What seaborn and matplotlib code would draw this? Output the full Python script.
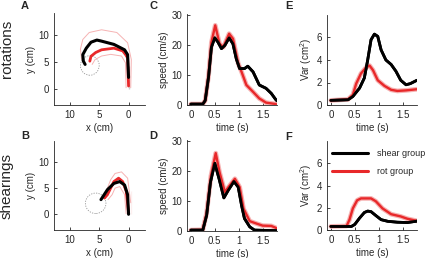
import numpy as np
import pandas as pd
import matplotlib
matplotlib.use('Agg')
import matplotlib.pyplot as plt
import seaborn as sns
from matplotlib.patches import Ellipse

sns.set_style('ticks')
plt.rcParams['font.family'] = ['Liberation Sans', 'DejaVu Sans']
plt.rcParams['mathtext.fontset'] = 'custom'
plt.rcParams['mathtext.rm'] = 'Liberation Sans'

BLACK = '#000000'
RED = '#e8282a'
PINK = '#f6b3b3'

# ---------------------------------------------------------------------------
# data
# ---------------------------------------------------------------------------
# A: rotations, hand trajectories (cm)
rotA_black_x = [0, 0, 0.16, 0.68, 2.5, 4.6, 5.4, 6.4, 7.2, 7.8, 7.7, 7.4]
rotA_black_y = [0, 4.2, 6.3, 7.2, 8.2, 8.8, 9.0, 8.6, 7.5, 6.3, 5.1, 4.5]
rotA_red_x = [0, 0.16, 0.5, 1.0, 2.5, 4.6, 5.6, 6.4, 6.6]
rotA_red_y = [0.5, 5.7, 6.3, 7.0, 7.5, 7.2, 6.7, 6.0, 5.1]
rotA_env_hi_x = [-0.37, -0.47, 0.16, 2.0, 4.6, 6.7, 7.8, 8.2, 8.0]
rotA_env_hi_y = [0.19, 5.4, 8.5, 10.4, 10.9, 10.4, 9.1, 7.3, 5.4]
rotA_env_lo_x = [0.42, 0.53, 1.2, 3.05, 4.6, 5.7, 6.2]
rotA_env_lo_y = [0.19, 4.8, 6.05, 6.36, 6.05, 5.4, 4.5]
rotA_circle = (6.6, 4.3, 1.6, 1.8)

# B: shearings, hand trajectories (cm)
shB_black_x = [0, 0.16, 0.68, 1.5, 2.5, 3.6, 4.7]
shB_black_y = [0, 3.75, 5.6, 6.25, 5.9, 4.7, 2.8]
shB_red_x = [0, 0.4, 1.0, 1.7, 2.5, 3.05, 3.6, 4.1]
shB_red_y = [0.3, 4.4, 6.25, 6.9, 6.25, 5.0, 3.75, 3.1]
shB_env_hi_x = [-0.37, -0.37, 0.16, 1.2, 2.3, 3.05, 3.7, 4.4]
shB_env_hi_y = [0, 4.4, 6.9, 8.1, 7.8, 6.6, 4.7, 3.1]
shB_env_lo_x = [0.42, 0.68, 1.5, 2.3, 2.8, 3.5]
shB_env_lo_y = [0.1, 3.75, 5.3, 5.0, 3.75, 2.8]
shB_circle = (5.6, 2.1, 1.75, 1.95)

# C: speed, rotations
spC_black_t = [0, 0.25, 0.3, 0.37, 0.43, 0.5, 0.57, 0.64, 0.71, 0.8, 0.88, 0.95,
               1.02, 1.12, 1.19, 1.3, 1.43, 1.57, 1.68, 1.77, 1.8]
spC_black_v = [0.3, 0.3, 1.5, 9.4, 19.4, 22.5, 21, 18.9, 20, 22.5, 20.5, 15.5,
               12.2, 12.2, 13, 11.1, 6.7, 5.6, 3.9, 1.9, 1.4]
spC_red_t = [0, 0.25, 0.3, 0.37, 0.43, 0.51, 0.6, 0.68, 0.8, 0.88, 0.99,
             1.06, 1.16, 1.3, 1.43, 1.57, 1.78]
spC_red_v = [0.3, 0.3, 1.5, 9.8, 21, 26.7, 20.5, 19.4, 23.9, 22.2, 13.9,
             11.1, 6.7, 4.4, 2.2, 0.8, 0.3]

# D: speed, shearings
spD_black_t = [0, 0.25, 0.33, 0.41, 0.5, 0.59, 0.69, 0.78, 0.9, 0.99, 1.06,
               1.12, 1.23, 1.33, 1.8]
spD_black_v = [0.3, 0.3, 5.3, 16.4, 22.7, 17.5, 11.1, 13.6, 16.6, 14.7, 8.6,
               4.2, 1.4, 0.3, 0.1]
spD_red_t = [0, 0.25, 0.33, 0.42, 0.52, 0.6, 0.71, 0.8, 0.92, 1.02, 1.1,
             1.23, 1.37, 1.5, 1.68, 1.77, 1.8]
spD_red_v = [0.3, 0.4, 6.0, 18.5, 26.1, 19.7, 13.1, 15, 17.5, 14.7, 7.5,
             3.3, 2.5, 1.8, 1.7, 1.1, 0.8]

# E: variance, rotations
varE_black_t = [0, 0.36, 0.46, 0.6, 0.7, 0.77, 0.84, 0.91, 0.98, 1.05, 1.15,
                1.26, 1.36, 1.46, 1.57, 1.66, 1.8]
varE_black_v = [0.41, 0.47, 0.76, 1.5, 2.4, 4.0, 5.8, 6.3, 6.1, 4.9, 4.0,
                3.6, 3.0, 2.2, 1.8, 1.9, 2.2]
varE_red_t = [0, 0.36, 0.46, 0.53, 0.63, 0.74, 0.81, 0.88, 0.98, 1.12, 1.26,
              1.39, 1.57, 1.8]
varE_red_v = [0.41, 0.5, 0.9, 1.9, 2.8, 3.35, 3.5, 3.1, 2.2, 1.7, 1.35,
              1.25, 1.3, 1.4]

# F: variance, shearings
varF_black_t = [0, 0.43, 0.5, 0.6, 0.7, 0.77, 0.84, 0.94, 1.05, 1.19, 1.39,
                1.6, 1.8]
varF_black_v = [0.32, 0.32, 0.5, 1.07, 1.57, 1.7, 1.65, 1.3, 0.93, 0.78, 0.7,
                0.67, 0.8]
varF_red_t = [0, 0.33, 0.39, 0.46, 0.55, 0.63, 0.84, 0.94, 1.08, 1.26, 1.46,
              1.6, 1.8]
varF_red_v = [0.32, 0.36, 0.93, 1.94, 2.67, 2.84, 2.84, 2.58, 1.94, 1.42,
              1.22, 1.01, 0.82]

group_labels = ['shear group', 'rot group']

# ---------------------------------------------------------------------------
W, H = 429, 258
fig = plt.figure(figsize=(W / 100, H / 100), dpi=100)


def rect(l, r, t, b):
    return [l / W, (H - b) / H, (r - l) / W, (b - t) / H]


axA = fig.add_axes(rect(54, 145, 13, 105))
axB = fig.add_axes(rect(54, 145, 141, 230))
axC = fig.add_axes(rect(187, 277, 14, 105))
axD = fig.add_axes(rect(187, 277, 140, 231))
axE = fig.add_axes(rect(327, 417, 15, 105))
axF = fig.add_axes(rect(327, 417, 141, 230))

FS = 7


def style(ax):
    sns.despine(ax=ax)
    for s in ['left', 'bottom']:
        ax.spines[s].set_linewidth(0.6)
    ax.tick_params(direction='in', length=2, width=0.6, labelsize=FS, pad=3.5)


def traj(ax, bx, by, rx, ry, hx, hy, lx, ly, circ):
    sns.lineplot(x=hx, y=hy, sort=False, ax=ax, color=PINK, lw=0.7)
    sns.lineplot(x=lx, y=ly, sort=False, ax=ax, color=PINK, lw=0.7)
    cx, cy, rxx, ryy = circ
    ax.add_patch(Ellipse((cx, cy), 2 * rxx, 2 * ryy, fill=False, ls=(0, (1.5, 1.5)),
                         lw=0.6, ec='#999999'))
    sns.lineplot(x=rx, y=ry, sort=False, ax=ax, color=RED, lw=2.0)
    sns.lineplot(x=bx, y=by, sort=False, ax=ax, color=BLACK, lw=2.2)
    ax.set_xlim(12.7, -2.8)
    ax.set_ylim(-3, 14)
    ax.set_xticks([10, 5, 0])
    ax.set_yticks([0, 5, 10])
    ax.set_xlabel('x (cm)', fontsize=FS, labelpad=2)
    ax.set_ylabel('y (cm)', fontsize=FS, labelpad=2)
    style(ax)


traj(axA, rotA_black_x, rotA_black_y, rotA_red_x, rotA_red_y,
     rotA_env_hi_x, rotA_env_hi_y, rotA_env_lo_x, rotA_env_lo_y, rotA_circle)
traj(axB, shB_black_x, shB_black_y, shB_red_x, shB_red_y,
     shB_env_hi_x, shB_env_hi_y, shB_env_lo_x, shB_env_lo_y, shB_circle)


def timecourse(ax, bt, bv, rt, rv, ylim, yticks, ylabel, legend=False):
    sns.lineplot(x=rt, y=rv, ax=ax, color=PINK, lw=3.4)
    sns.lineplot(x=bt, y=bv, ax=ax, color=BLACK, lw=2.0,
                 label=group_labels[0] if legend else None)
    sns.lineplot(x=rt, y=rv, ax=ax, color=RED, lw=1.7,
                 label=group_labels[1] if legend else None)
    sns.lineplot(x=bt, y=bv, ax=ax, color=BLACK, lw=2.0)
    ax.set_xlim(-0.08, 1.8)
    ax.set_ylim(*ylim)
    ax.set_xticks([0, 0.5, 1, 1.5])
    ax.set_xticklabels(['0', '0.5', '1', '1.5'])
    ax.set_yticks(yticks)
    ax.set_xlabel('time (s)', fontsize=FS, labelpad=2)
    ax.set_ylabel(ylabel, fontsize=FS, labelpad=2)
    style(ax)


timecourse(axC, spC_black_t, spC_black_v, spC_red_t, spC_red_v,
           (0, 30.5), [0, 10, 20, 30], 'speed (cm/s)')
timecourse(axD, spD_black_t, spD_black_v, spD_red_t, spD_red_v,
           (0, 30.5), [0, 10, 20, 30], 'speed (cm/s)')
timecourse(axE, varE_black_t, varE_black_v, varE_red_t, varE_red_v,
           (0, 8), [0, 2, 4, 6], 'Var (cm$^2$)')
timecourse(axF, varF_black_t, varF_black_v, varF_red_t, varF_red_v,
           (0, 8), [0, 2, 4, 6], 'Var (cm$^2$)', legend=True)

leg = axF.legend(loc='upper left', bbox_to_anchor=(0.0, 0.97), frameon=False,
                 fontsize=6.5, handlelength=3.9, handletextpad=1.0,
                 labelspacing=1.0, borderaxespad=0.2)
for h in leg.get_lines():
    h.set_linewidth(2.2)

# panel letters & row titles
for lbl, x, y in [('A', 25, 6), ('B', 25, 136), ('C', 153, 6), ('D', 153, 136),
                  ('E', 289, 6), ('F', 289, 137)]:
    fig.text(x / W, 1 - y / H, lbl, fontsize=8, fontweight='bold',
             ha='center', va='center')
fig.text(7 / W, 1 - 49 / H, 'rotations', fontsize=11, rotation=90,
         ha='center', va='center')
fig.text(7 / W, 1 - 186 / H, 'shearings', fontsize=11, rotation=90,
         ha='center', va='center')

fig.savefig('out.png', dpi=100)
